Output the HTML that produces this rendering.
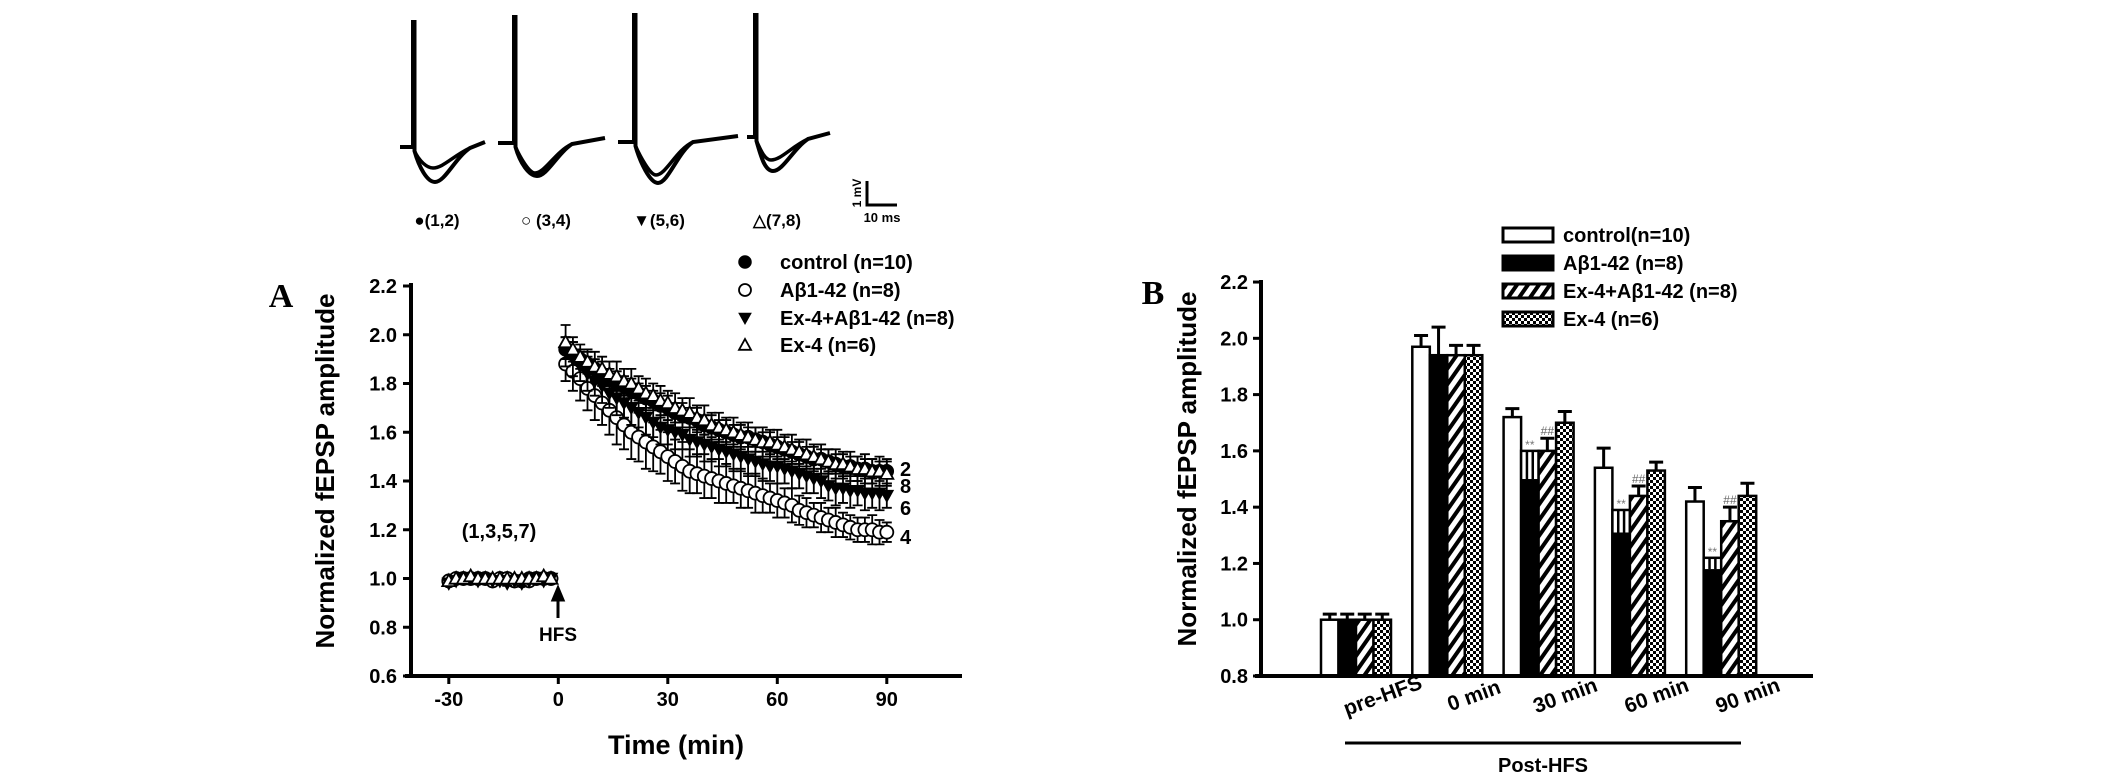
<!DOCTYPE html>
<html><head><meta charset="utf-8"><style>
html,body{margin:0;padding:0;background:#fff;}
svg{display:block;font-family:"Liberation Sans",sans-serif;font-weight:bold;}
</style></head><body>
<svg id="fig" width="2126" height="775" viewBox="0 0 2126 775" xmlns="http://www.w3.org/2000/svg">
<defs>
<pattern id="hatch" patternUnits="userSpaceOnUse" width="9" height="9" patternTransform="rotate(35)">
<rect width="9" height="9" fill="#fff"/><rect width="4" height="9" fill="#000"/></pattern>
<pattern id="check" patternUnits="userSpaceOnUse" width="6" height="6">
<rect width="6" height="6" fill="#fff"/><rect width="3" height="3" fill="#000"/><rect x="3" y="3" width="3" height="3" fill="#000"/></pattern>
</defs>
<g id="traces"></g>
<g id="panelA"></g>
<g id="panelB"></g>
</svg>
<script>
// ---------- Panel A data ----------
const timesA = [-30,-28,-26,-24,-22,-20,-18,-16,-14,-12,-10,-8,-6,-4,-2,
2,4,6,8,10,12,14,16,18,20,22,24,26,28,30,32,34,36,38,40,42,44,46,48,50,52,54,56,58,60,62,64,66,68,70,72,74,76,78,80,82,84,86,88,90];
const controlA = [0.99,1.00,1.00,1.00,1.00,1.00,0.99,1.00,1.00,0.99,0.99,1.00,1.00,1.00,1.00,
1.94,1.92,1.90,1.88,1.86,1.84,1.82,1.80,1.79,1.77,1.76,1.74,1.73,1.71,1.70,1.68,1.67,1.66,1.65,1.63,1.62,1.61,1.60,1.59,1.58,1.58,1.57,1.56,1.55,1.54,1.53,1.52,1.51,1.50,1.49,1.49,1.48,1.47,1.46,1.46,1.45,1.45,1.44,1.44,1.44];
const abetaA = [0.99,1.00,1.00,1.00,1.00,1.00,0.99,1.00,1.00,0.99,0.99,0.99,1.00,1.00,1.00,
1.88,1.85,1.82,1.78,1.75,1.72,1.69,1.66,1.63,1.60,1.58,1.56,1.54,1.52,1.50,1.48,1.46,1.44,1.43,1.42,1.41,1.40,1.39,1.38,1.37,1.36,1.35,1.34,1.33,1.32,1.31,1.30,1.28,1.27,1.26,1.25,1.24,1.23,1.22,1.21,1.20,1.20,1.20,1.19,1.19];
const exAbetaA = [0.98,0.99,1.00,1.00,0.99,1.00,0.99,0.99,0.98,0.99,0.98,0.99,1.00,0.99,1.00,
1.93,1.90,1.87,1.84,1.81,1.79,1.76,1.74,1.72,1.70,1.68,1.66,1.64,1.62,1.61,1.60,1.59,1.57,1.56,1.55,1.54,1.53,1.52,1.51,1.50,1.49,1.48,1.47,1.46,1.46,1.45,1.44,1.43,1.42,1.41,1.40,1.38,1.37,1.37,1.36,1.36,1.35,1.35,1.35,1.34];
const ex4A = [0.99,1.00,1.00,1.01,1.00,1.00,1.00,1.00,1.00,1.00,1.00,1.00,1.00,1.01,1.00,
1.97,1.94,1.91,1.89,1.87,1.86,1.84,1.83,1.81,1.80,1.78,1.76,1.75,1.73,1.72,1.70,1.69,1.68,1.66,1.65,1.63,1.62,1.61,1.60,1.59,1.58,1.57,1.56,1.56,1.55,1.54,1.53,1.52,1.51,1.50,1.49,1.48,1.47,1.47,1.46,1.45,1.45,1.44,1.44,1.43];
const controlErr = [0.01,0.01,0.01,0.01,0.01,0.01,0.01,0.01,0.01,0.01,0.01,0.01,0.01,0.01,0.01,
0.05,0.05,0.04,0.05,0.04,0.05,0.04,0.05,0.04,0.05,0.04,0.05,0.04,0.05,0.05,0.04,0.05,0.04,0.05,0.04,0.05,0.04,0.05,0.04,0.05,0.04,0.05,0.04,0.05,0.04,0.05,0.04,0.05,0.04,0.05,0.04,0.05,0.04,0.05,0.04,0.05,0.04,0.05,0.04,0.05];
const abetaErr = [0.01,0.01,0.01,0.01,0.01,0.01,0.01,0.01,0.01,0.01,0.01,0.01,0.01,0.01,0.01,
0.07,0.08,0.09,0.09,0.10,0.09,0.10,0.11,0.10,0.11,0.10,0.11,0.10,0.09,0.10,0.09,0.10,0.09,0.08,0.09,0.08,0.09,0.08,0.07,0.08,0.07,0.08,0.07,0.06,0.07,0.06,0.07,0.06,0.06,0.05,0.06,0.05,0.06,0.05,0.05,0.05,0.05,0.06,0.05,0.04];
const exAbetaErr = [0.01,0.01,0.01,0.01,0.01,0.01,0.01,0.01,0.01,0.01,0.01,0.01,0.01,0.01,0.01,
0.06,0.07,0.06,0.07,0.06,0.07,0.06,0.07,0.06,0.07,0.06,0.07,0.06,0.07,0.06,0.07,0.06,0.07,0.06,0.07,0.06,0.07,0.06,0.07,0.06,0.07,0.06,0.07,0.06,0.07,0.06,0.07,0.06,0.07,0.06,0.07,0.06,0.07,0.06,0.07,0.06,0.07,0.06,0.07,0.05];
const ex4Err = [0.01,0.01,0.01,0.01,0.01,0.01,0.01,0.01,0.01,0.01,0.01,0.01,0.01,0.01,0.01,
0.07,0.05,0.05,0.05,0.06,0.05,0.05,0.06,0.05,0.06,0.05,0.06,0.05,0.06,0.05,0.06,0.05,0.06,0.05,0.06,0.05,0.06,0.05,0.06,0.05,0.06,0.05,0.06,0.05,0.06,0.05,0.06,0.05,0.06,0.05,0.06,0.05,0.06,0.05,0.06,0.05,0.06,0.05,0.06,0.05];
const xTicksA = [-30,0,30,60,90];
const yTicksA = [0.6,0.8,1.0,1.2,1.4,1.6,1.8,2.0,2.2];
const endLabelsA = ["2","8","6","4"];
const endLabelValsA = [1.45,1.38,1.29,1.17];

// ---------- Panel B data ----------
const groupsB = ["pre-HFS","0 min","30 min","60 min","90 min"];
const controlB = [1.00,1.97,1.72,1.54,1.42];
const controlBErr = [0.02,0.04,0.03,0.07,0.05];
const abetaB = [1.00,1.94,1.60,1.39,1.22];
const abetaBErr = [0.02,0.10,0.10,0.08,0.04];
const exAbetaB = [1.00,1.94,1.60,1.44,1.35];
const exAbetaBErr = [0.02,0.035,0.045,0.035,0.05];
const ex4B = [1.00,1.94,1.70,1.53,1.44];
const ex4BErr = [0.02,0.035,0.04,0.03,0.045];
const yTicksB = [0.8,1.0,1.2,1.4,1.6,1.8,2.0,2.2];
const seriesNamesB = ["control(n=10)","Aβ1-42 (n=8)","Ex-4+Aβ1-42 (n=8)","Ex-4 (n=6)"];

const NS="http://www.w3.org/2000/svg";
function mk(parent, tag, attrs, text){
  const el=document.createElementNS(NS,tag);
  for(const k in attrs) el.setAttribute(k,attrs[k]);
  if(text!==undefined) el.textContent=text;
  parent.appendChild(el);
  return el;
}
let el;

// ---------- Traces (illustration) ----------
const TR=document.getElementById('traces');
const traceDefs=[
 [400,413,147,22,182,168,435,485,142],
 [498,514,143,17,176,173,537,605,138],
 [618,634,142,15,183,175,658,738,136],
 [747,755,137,15,171,160,773,830,133]];
traceDefs.forEach((d,i)=>{
  const [x0,xs,by,top,deep,shal,xt,xe,ey]=d;
  const p1=`M${x0},${by} L${xs},${by} L${xs},${top} L${xs+1.5},${top} L${xs+1.5},${by+4} C${xs+6},${by+20} ${xt-8},${deep} ${xt},${deep} C${xt+10},${deep} ${xt+20},${ey+16} ${xt+35},${ey+6} L${xe},${ey}`;
  const p2=`M${xs+1.5},${by+4} C${xs+6},${by+14} ${xt-8},${shal} ${xt-2},${shal} C${xt+8},${shal} ${xt+18},${ey+14} ${xt+35},${ey+6}`;
  el=mk(TR,'path',{d:p1,fill:'none',stroke:'#000','stroke-width':4});
  
  
  el=mk(TR,'path',{d:p2,fill:'none',stroke:'#000','stroke-width':3.5});
  
  
});
const trLabels=[[437,"●(1,2)"],[546,"○ (3,4)"],[659,"▼(5,6)"],[777,"△(7,8)"]];
trLabels.forEach((l,i)=>{
  el=mk(TR,'text',{x:l[0],y:226,'text-anchor':'middle','font-size':17},l[1]);
  
  
});
el=mk(TR,'path',{d:'M867,181 L867,205 L897,205',fill:'none',stroke:'#000','stroke-width':3});


el=mk(TR,'text',{x:861,y:193,'text-anchor':'middle','font-size':12,transform:'rotate(-90 861 193)'},'1 mV');


el=mk(TR,'text',{x:882,y:222,'text-anchor':'middle','font-size':13},'10 ms');



// ---------- Panel A ----------
const A=document.getElementById('panelA');
const xA=t=>558.3+t*(109.5/30);
const yA=v=>676-(v-0.6)*243.75;
el=mk(A,'text',{x:281,y:307,'text-anchor':'middle','font-size':34,'font-family':'"Liberation Serif",serif'},'A');


el=mk(A,'line',{x1:411,y1:283,x2:411,y2:678,stroke:'#000','stroke-width':4});


el=mk(A,'line',{x1:405,y1:676,x2:962,y2:676,stroke:'#000','stroke-width':4});


yTicksA.forEach(v=>{
  el=mk(A,'line',{x1:403,y1:yA(v),x2:411,y2:yA(v),stroke:'#000','stroke-width':3});
  
  
  el=mk(A,'text',{x:397,y:yA(v)+7,'text-anchor':'end','font-size':20},v.toFixed(1));
  
  
});
xTicksA.forEach(t=>{
  el=mk(A,'line',{x1:xA(t),y1:676,x2:xA(t),y2:684,stroke:'#000','stroke-width':3});
  
  
  el=mk(A,'text',{x:xA(t),y:706,'text-anchor':'middle','font-size':20},String(t));
  
  
});
el=mk(A,'text',{x:676,y:754,'text-anchor':'middle','font-size':27},'Time (min)');


el=mk(A,'text',{x:334,y:471,'text-anchor':'middle','font-size':26,transform:'rotate(-90 334 471)'},'Normalized fEPSP amplitude');



function marker(g,type,cx,cy,r){
  if(type==='fc') return mk(g,'circle',{cx,cy,r,fill:'#000',stroke:'#000','stroke-width':1.5});
  if(type==='oc') return mk(g,'circle',{cx,cy,r,fill:'#fff',stroke:'#000','stroke-width':1.8});
  if(type==='dt') return mk(g,'polygon',{points:`${cx-r},${cy-r*0.8} ${cx+r},${cy-r*0.8} ${cx},${cy+r}`,fill:'#000',stroke:'#000','stroke-width':1});
  return mk(g,'polygon',{points:`${cx-r},${cy+r*0.8} ${cx+r},${cy+r*0.8} ${cx},${cy-r}`,fill:'#fff',stroke:'#000','stroke-width':1.8});
}
const seriesA=[['control',controlA,controlErr,'fc'],['abeta',abetaA,abetaErr,'oc'],['ex4-abeta',exAbetaA,exAbetaErr,'dt'],['ex4',ex4A,ex4Err,'ut']];
seriesA.forEach(s=>{
  const g=mk(A,'g',{});
  
  
  timesA.forEach((t,i)=>{
    const x=xA(t), y1=yA(s[1][i]+s[2][i]), y2=yA(s[1][i]-s[2][i]);
    el=mk(g,'path',{d:`M${x},${y1}L${x},${y2}M${x-5},${y1}L${x+5},${y1}M${x-5},${y2}L${x+5},${y2}`,stroke:'#000','stroke-width':1.8,fill:'none'});
    
    
  });
  timesA.forEach((t,i)=>{
    el=marker(g,s[3],xA(t),yA(s[1][i]),6.5);
    
    
  });
});
endLabelsA.forEach((l,i)=>{
  el=mk(A,'text',{x:900,y:yA(endLabelValsA[i])+7,'font-size':20},l);
  
  
});
el=mk(A,'text',{x:499,y:538,'text-anchor':'middle','font-size':20},'(1,3,5,7)');


el=mk(A,'path',{d:'M558,618 L558,594 M553,600 L558,588 L563,600 Z',stroke:'#000','stroke-width':3,fill:'#000'});


el=mk(A,'text',{x:558,y:641,'text-anchor':'middle','font-size':19},'HFS');


const legA=[['fc','control (n=10)'],['oc','Aβ1-42 (n=8)'],['dt','Ex-4+Aβ1-42 (n=8)'],['ut','Ex-4 (n=6)']];
const legAY=[262,290,318,345];
legA.forEach((l,i)=>{
  el=marker(A,l[0],745,legAY[i],6);
  
  
  el=mk(A,'text',{x:780,y:legAY[i]+7,'font-size':20},l[1]);
  
  
});

// ---------- Panel B ----------
const B=document.getElementById('panelB');
const yB=v=>676-(v-0.8)*281.4;
const g0=1321, gStep=91.3, bw=17.5;
el=mk(B,'text',{x:1153,y:304,'text-anchor':'middle','font-size':34,'font-family':'"Liberation Serif",serif'},'B');


el=mk(B,'text',{x:1196,y:469,'text-anchor':'middle','font-size':26,transform:'rotate(-90 1196 469)'},'Normalized fEPSP amplitude');


yTicksB.forEach(v=>{
  el=mk(B,'line',{x1:1253,y1:yB(v),x2:1261,y2:yB(v),stroke:'#000','stroke-width':3});
  
  
  el=mk(B,'text',{x:1248,y:yB(v)+7,'text-anchor':'end','font-size':20},v.toFixed(1));
  
  
});
const fills=['#fff','#000','url(#hatch)','url(#check)'];
const seriesB=[[controlB,controlBErr],[abetaB,abetaBErr],[exAbetaB,exAbetaBErr],[ex4B,ex4BErr]];
const bnames=['control','abeta','ex4-abeta','ex4'];
groupsB.forEach((gname,gi)=>{
  seriesB.forEach((s,si)=>{
    const x=g0+gi*gStep+si*bw, v=s[0][gi], e=s[1][gi];
    const top=yB(v), base=yB(0.8);
    if(si===1 && gi>=2){
      el=mk(B,'rect',{x,y:top,width:bw,height:base-top,fill:'#fff',stroke:'#000','stroke-width':2.5});
      
      
      el=mk(B,'rect',{x,y:yB(v-e),width:bw,height:base-yB(v-e),fill:'#000'});
      
      
      el=mk(B,'path',{d:`M${x+bw/3},${top}L${x+bw/3},${yB(v-e)}M${x+2*bw/3},${top}L${x+2*bw/3},${yB(v-e)}`,stroke:'#000','stroke-width':2.5});
      
      
      el=mk(B,'text',{x:x+bw/2,y:top-2,'text-anchor':'middle','font-size':12,fill:'#777','font-weight':'normal'},'**');
      
      
    } else {
      el=mk(B,'rect',{x,y:top,width:bw,height:base-top,fill:fills[si],stroke:'#000','stroke-width':2.5});
      
      
      const cx=x+bw/2, ye=yB(v+e);
      el=mk(B,'path',{d:`M${cx},${top}L${cx},${ye}M${cx-7},${ye}L${cx+7},${ye}`,stroke:'#000','stroke-width':3});
      
      
      if(si===2 && gi>=2){
        el=mk(B,'text',{x:cx,y:ye-3,'text-anchor':'middle','font-size':12,fill:'#666','font-weight':'normal'},'##');
        
        
      }
    }
  });
  const lx=g0+gi*gStep+64, ly=702;
  el=mk(B,'text',{x:lx,y:ly,'text-anchor':'middle','font-size':21,transform:`rotate(-20 ${lx} ${ly})`},gname);
  
  
});
el=mk(B,'line',{x1:1261,y1:280,x2:1261,y2:678,stroke:'#000','stroke-width':4});


el=mk(B,'line',{x1:1255,y1:676,x2:1813,y2:676,stroke:'#000','stroke-width':4});


el=mk(B,'line',{x1:1345,y1:743,x2:1741,y2:743,stroke:'#000','stroke-width':3});


el=mk(B,'text',{x:1543,y:772,'text-anchor':'middle','font-size':20},'Post-HFS');


const legBY=[235,263,291,319];
seriesNamesB.forEach((n,i)=>{
  el=mk(B,'rect',{x:1503,y:legBY[i]-7,width:50,height:14,fill:fills[i],stroke:'#000','stroke-width':3});
  
  
  el=mk(B,'text',{x:1563,y:legBY[i]+7,'font-size':20},n);
  
  
});
</script>
</body></html>
